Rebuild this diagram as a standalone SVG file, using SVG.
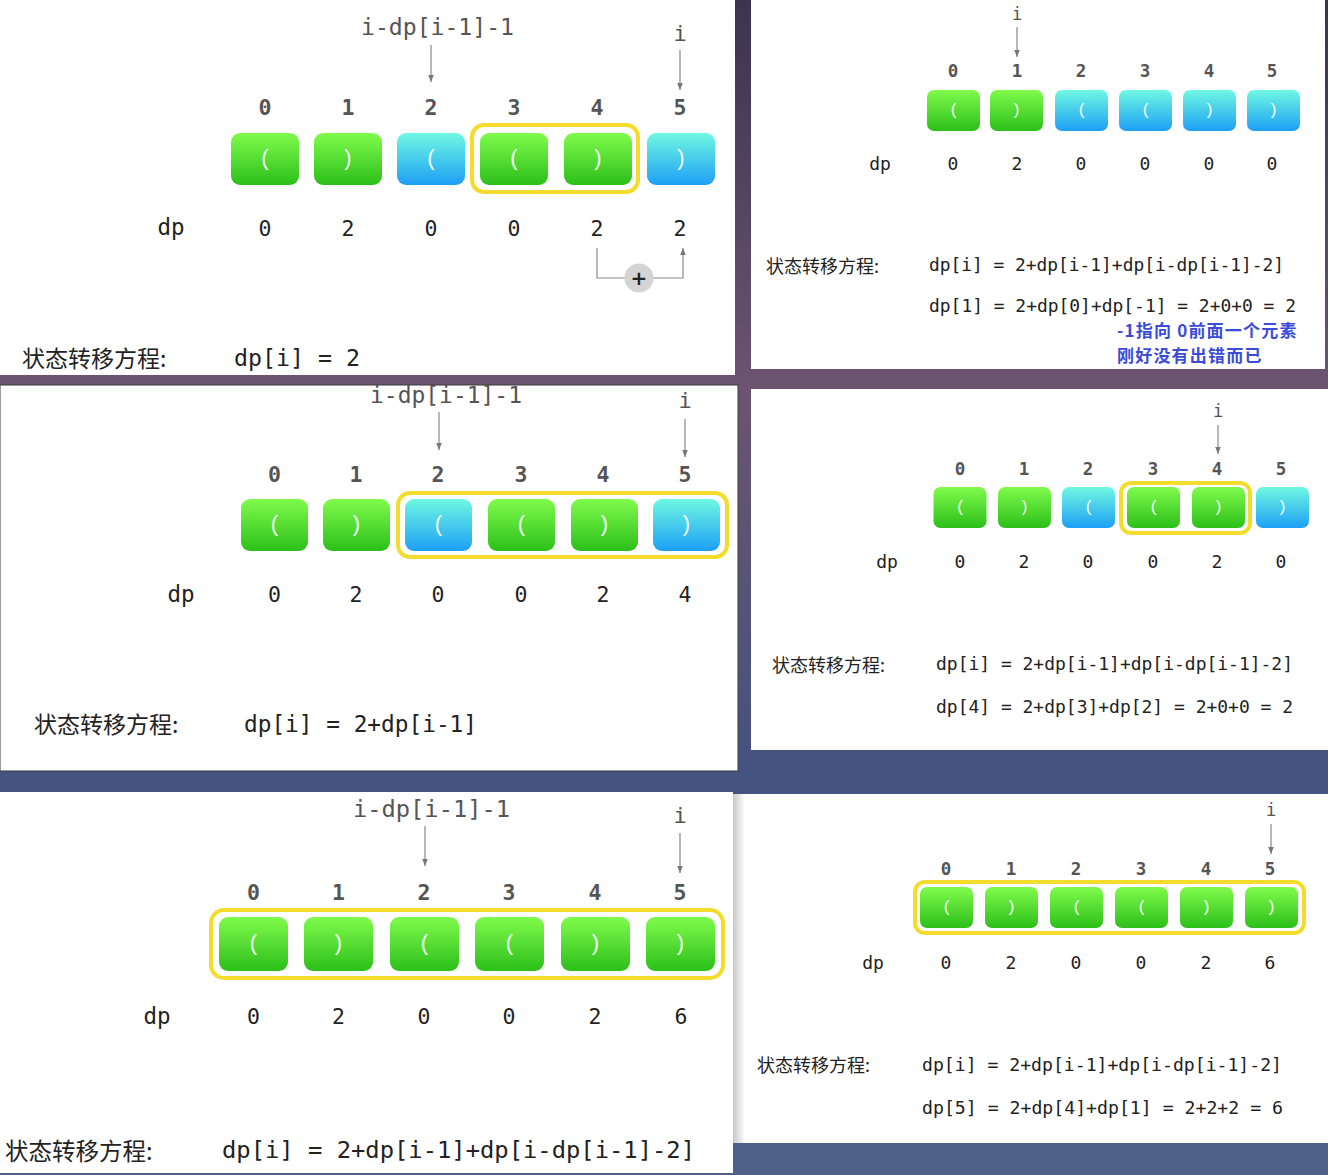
<svg xmlns="http://www.w3.org/2000/svg" width="1328" height="1175" viewBox="0 0 1328 1175">
<defs>
<linearGradient id="bg" x1="0" y1="0" x2="0" y2="1">
<stop offset="0" stop-color="#3b3450"/>
<stop offset="0.33" stop-color="#6c5470"/>
<stop offset="0.66" stop-color="#44537f"/>
<stop offset="1" stop-color="#4f6189"/>
</linearGradient>
<linearGradient id="gg" x1="0" y1="0" x2="0" y2="1">
<stop offset="0" stop-color="#80fb4c"/>
<stop offset="1" stop-color="#2cbf1a"/>
</linearGradient>
<linearGradient id="gb" x1="0" y1="0" x2="0" y2="1">
<stop offset="0" stop-color="#6ff8e2"/>
<stop offset="1" stop-color="#1e9ff5"/>
</linearGradient>
<linearGradient id="sh" x1="0" y1="0" x2="1" y2="0">
<stop offset="0" stop-color="#c8c8c8"/>
<stop offset="1" stop-color="#ffffff"/>
</linearGradient>
<marker id="ah" viewBox="0 0 10 10" refX="10" refY="5" markerWidth="6" markerHeight="6" orient="auto">
<path d="M0,1 L10,5 L0,9 z" fill="#777"/>
</marker>
</defs>
<style>
.panel{fill:#ffffff}
.g{fill:url(#gg)}
.b{fill:url(#gb)}
.hl{fill:none;stroke:#f4dc2c;stroke-width:4}
.par{font-family:"Liberation Sans",Arial,sans-serif;fill:#f4fff4;text-anchor:middle}
.idx{font-family:"DejaVu Sans Mono",monospace;font-weight:bold;fill:#555;text-anchor:middle}
.val{font-family:"DejaVu Sans Mono",monospace;fill:#222;text-anchor:middle}
.ptr{font-family:"DejaVu Sans Mono",monospace;fill:#555}
.ptrc{font-family:"DejaVu Sans Mono",monospace;fill:#555;text-anchor:middle}
.fm{font-family:"DejaVu Sans Mono",monospace;fill:#222}
.cn{font-family:"Noto Sans CJK SC",sans-serif;fill:#222}
.note{font-family:"Noto Sans CJK SC",sans-serif;font-weight:bold;fill:#3b4bd9;letter-spacing:1.2px}
.arr{stroke:#888;stroke-width:1.2;fill:none;marker-end:url(#ah)}
.L{font-size:21.5px}
.S{font-size:17.5px}
</style>
<rect x="0" y="0" width="1328" height="1175" fill="url(#bg)"/>

<!-- Panel 1 -->
<g id="panel1">
<rect class="panel" x="0" y="0" width="735" height="375"/>
<text class="ptr" x="361" y="35" font-size="23" textLength="153" lengthAdjust="spacingAndGlyphs">i-dp[i-1]-1</text>
<text class="ptrc" x="680" y="41" font-size="22">i</text>
<g class="idx L"><text x="265" y="115">0</text><text x="348" y="115">1</text><text x="431" y="115">2</text><text x="514" y="115">3</text><text x="597" y="115">4</text><text x="680" y="115">5</text></g>
<g id="p1-nodes">
<g id="p1-n0"><rect class="g" x="231" y="133" width="68" height="52" rx="9"/><text class="par" x="265" y="165" font-size="22">(</text></g>
<g id="p1-n1"><rect class="g" x="314" y="133" width="68" height="52" rx="9"/><text class="par" x="348" y="165" font-size="22">)</text></g>
<g id="p1-n2"><rect class="b" x="397" y="133" width="68" height="52" rx="9"/><text class="par" x="431" y="165" font-size="22">(</text></g>
<g id="p1-n3"><rect class="g" x="480" y="133" width="68" height="52" rx="9"/><text class="par" x="514" y="165" font-size="22">(</text></g>
<g id="p1-n4"><rect class="g" x="564" y="133" width="68" height="52" rx="9"/><text class="par" x="598" y="165" font-size="22">)</text></g>
<g id="p1-n5"><rect class="b" x="647" y="133" width="68" height="52" rx="9"/><text class="par" x="681" y="165" font-size="22">)</text></g>
<rect id="p1-hl" class="hl" x="472" y="125" width="166" height="67" rx="12"/>
</g>
<text class="val" x="171" y="235" font-size="22.5">dp</text>
<g class="val L"><text x="265" y="236">0</text><text x="348" y="236">2</text><text x="431" y="236">0</text><text x="514" y="236">0</text><text x="597" y="236">2</text><text x="680" y="236">2</text></g>
<g id="p1-connectors">
<line class="arr" x1="431" y1="45" x2="431" y2="82"/>
<line class="arr" x1="680" y1="50" x2="680" y2="90"/>
<path class="arr" d="M597,248 V278 H683 V248"/>
</g>
<g id="p1-plus"><circle cx="639" cy="278" r="14.5" fill="#d4d4d4"/><text x="639" y="285" font-family="DejaVu Sans,sans-serif" font-weight="bold" font-size="20" fill="#222" text-anchor="middle">+</text></g>
<text class="cn" x="22" y="367" font-size="23">状态转移方程:</text>
<text class="fm" x="234" y="366" font-size="23" textLength="126" lengthAdjust="spacingAndGlyphs">dp[i] = 2</text>
</g>

<!-- Panel 2 -->
<g id="panel2">
<rect class="panel" x="751" y="0" width="574" height="369"/>
<text class="ptrc" x="1017" y="20" font-size="17">i</text>
<g class="idx S"><text x="953" y="77">0</text><text x="1017" y="77">1</text><text x="1081" y="77">2</text><text x="1145" y="77">3</text><text x="1209" y="77">4</text><text x="1272" y="77">5</text></g>
<g id="p2-nodes">
<g id="p2-n0"><rect class="g" x="927" y="90" width="53" height="41" rx="7"/><text class="par" x="953.5" y="115" font-size="17">(</text></g>
<g id="p2-n1"><rect class="g" x="990" y="90" width="53" height="41" rx="7"/><text class="par" x="1016.5" y="115" font-size="17">)</text></g>
<g id="p2-n2"><rect class="b" x="1055" y="90" width="53" height="41" rx="7"/><text class="par" x="1081.5" y="115" font-size="17">(</text></g>
<g id="p2-n3"><rect class="b" x="1119" y="90" width="53" height="41" rx="7"/><text class="par" x="1145.5" y="115" font-size="17">(</text></g>
<g id="p2-n4"><rect class="b" x="1183" y="90" width="53" height="41" rx="7"/><text class="par" x="1209.5" y="115" font-size="17">)</text></g>
<g id="p2-n5"><rect class="b" x="1247" y="90" width="53" height="41" rx="7"/><text class="par" x="1273.5" y="115" font-size="17">)</text></g>
</g>
<g id="p2-connectors"><line class="arr" x1="1017" y1="27" x2="1017" y2="57"/></g>
<text class="val" x="880" y="170" font-size="18">dp</text>
<g class="val" font-size="18"><text x="953" y="170">0</text><text x="1017" y="170">2</text><text x="1081" y="170">0</text><text x="1145" y="170">0</text><text x="1209" y="170">0</text><text x="1272" y="170">0</text></g>
<text class="cn" x="766" y="273" font-size="18">状态转移方程:</text>
<text class="fm" x="929" y="271" font-size="17.8" textLength="355" lengthAdjust="spacingAndGlyphs">dp[i] = 2+dp[i-1]+dp[i-dp[i-1]-2]</text>
<text class="fm" x="929" y="312" font-size="17.8" textLength="367" lengthAdjust="spacingAndGlyphs">dp[1] = 2+dp[0]+dp[-1] = 2+0+0 = 2</text>
<text class="note" x="1117" y="337" font-size="17">-1指向 0前面一个元素</text>
<text class="note" x="1117" y="362" font-size="17">刚好没有出错而已</text>
</g>

<!-- Panel 3 -->
<g id="panel3">
<rect class="panel" x="0" y="385" width="738" height="386" stroke="#3a3a3a" stroke-width="1"/>
<text class="ptr" x="370" y="403" font-size="23" textLength="152" lengthAdjust="spacingAndGlyphs">i-dp[i-1]-1</text>
<text class="ptrc" x="685" y="408" font-size="22">i</text>
<g class="idx L"><text x="274.5" y="482">0</text><text x="356" y="482">1</text><text x="438" y="482">2</text><text x="521" y="482">3</text><text x="603" y="482">4</text><text x="685" y="482">5</text></g>
<g id="p3-nodes">
<g id="p3-n0"><rect class="g" x="241" y="499" width="67" height="52" rx="9"/><text class="par" x="274.5" y="531" font-size="22">(</text></g>
<g id="p3-n1"><rect class="g" x="323" y="499" width="67" height="52" rx="9"/><text class="par" x="356.5" y="531" font-size="22">)</text></g>
<g id="p3-n2"><rect class="b" x="405" y="499" width="67" height="52" rx="9"/><text class="par" x="438.5" y="531" font-size="22">(</text></g>
<g id="p3-n3"><rect class="g" x="488" y="499" width="67" height="52" rx="9"/><text class="par" x="521.5" y="531" font-size="22">(</text></g>
<g id="p3-n4"><rect class="g" x="571" y="499" width="67" height="52" rx="9"/><text class="par" x="604.5" y="531" font-size="22">)</text></g>
<g id="p3-n5"><rect class="b" x="653" y="499" width="67" height="52" rx="9"/><text class="par" x="686.5" y="531" font-size="22">)</text></g>
<rect id="p3-hl" class="hl" x="398" y="493" width="329" height="64" rx="12"/>
</g>
<g id="p3-connectors">
<line class="arr" x1="439" y1="412" x2="439" y2="450"/>
<line class="arr" x1="685" y1="419" x2="685" y2="457"/>
</g>
<text class="val" x="181" y="602" font-size="22.5">dp</text>
<g class="val L"><text x="274.5" y="602">0</text><text x="356" y="602">2</text><text x="438" y="602">0</text><text x="521" y="602">0</text><text x="603" y="602">2</text><text x="685" y="602">4</text></g>
<text class="cn" x="34" y="733" font-size="23">状态转移方程:</text>
<text class="fm" x="244" y="732" font-size="22.8" textLength="233" lengthAdjust="spacingAndGlyphs">dp[i] = 2+dp[i-1]</text>
</g>

<!-- Panel 4 -->
<g id="panel4">
<rect class="panel" x="751" y="389" width="577" height="361"/>
<text class="ptrc" x="1218" y="417" font-size="17">i</text>
<g class="idx S"><text x="960" y="475">0</text><text x="1024" y="475">1</text><text x="1088" y="475">2</text><text x="1153" y="475">3</text><text x="1217" y="475">4</text><text x="1281" y="475">5</text></g>
<g id="p4-nodes">
<g id="p4-n0"><rect class="g" x="933.5" y="487" width="53" height="41" rx="7"/><text class="par" x="960" y="512" font-size="17">(</text></g>
<g id="p4-n1"><rect class="g" x="998" y="487" width="53" height="41" rx="7"/><text class="par" x="1024.5" y="512" font-size="17">)</text></g>
<g id="p4-n2"><rect class="b" x="1062" y="487" width="53" height="41" rx="7"/><text class="par" x="1088.5" y="512" font-size="17">(</text></g>
<g id="p4-n3"><rect class="g" x="1127" y="487" width="53" height="41" rx="7"/><text class="par" x="1153.5" y="512" font-size="17">(</text></g>
<g id="p4-n4"><rect class="g" x="1192" y="487" width="53" height="41" rx="7"/><text class="par" x="1218.5" y="512" font-size="17">)</text></g>
<g id="p4-n5"><rect class="b" x="1256" y="487" width="53" height="41" rx="7"/><text class="par" x="1282.5" y="512" font-size="17">)</text></g>
<rect id="p4-hl" class="hl" x="1121" y="483" width="129" height="50" rx="10"/>
</g>
<g id="p4-connectors"><line class="arr" x1="1218" y1="425" x2="1218" y2="454"/></g>
<text class="val" x="887" y="568" font-size="18">dp</text>
<g class="val" font-size="18"><text x="960" y="568">0</text><text x="1024" y="568">2</text><text x="1088" y="568">0</text><text x="1153" y="568">0</text><text x="1217" y="568">2</text><text x="1281" y="568">0</text></g>
<text class="cn" x="772" y="672" font-size="18">状态转移方程:</text>
<text class="fm" x="936" y="670" font-size="17.8" textLength="357" lengthAdjust="spacingAndGlyphs">dp[i] = 2+dp[i-1]+dp[i-dp[i-1]-2]</text>
<text class="fm" x="936" y="713" font-size="17.8" textLength="357" lengthAdjust="spacingAndGlyphs">dp[4] = 2+dp[3]+dp[2] = 2+0+0 = 2</text>
</g>

<!-- Panel 5 -->
<g id="panel5">
<rect class="panel" x="0" y="792" width="733" height="381"/>
<text class="ptr" x="353" y="817" font-size="23.5" textLength="157" lengthAdjust="spacingAndGlyphs">i-dp[i-1]-1</text>
<text class="ptrc" x="680" y="823" font-size="22">i</text>
<g class="idx L"><text x="253.5" y="900">0</text><text x="338.5" y="900">1</text><text x="424" y="900">2</text><text x="509" y="900">3</text><text x="595" y="900">4</text><text x="680" y="900">5</text></g>
<g id="p5-nodes">
<g id="p5-n0"><rect class="g" x="219" y="917" width="69" height="54" rx="9"/><text class="par" x="253.5" y="950" font-size="22">(</text></g>
<g id="p5-n1"><rect class="g" x="304" y="917" width="69" height="54" rx="9"/><text class="par" x="338.5" y="950" font-size="22">)</text></g>
<g id="p5-n2"><rect class="g" x="390" y="917" width="69" height="54" rx="9"/><text class="par" x="424.5" y="950" font-size="22">(</text></g>
<g id="p5-n3"><rect class="g" x="475" y="917" width="69" height="54" rx="9"/><text class="par" x="509.5" y="950" font-size="22">(</text></g>
<g id="p5-n4"><rect class="g" x="561" y="917" width="69" height="54" rx="9"/><text class="par" x="595.5" y="950" font-size="22">)</text></g>
<g id="p5-n5"><rect class="g" x="646" y="917" width="69" height="54" rx="9"/><text class="par" x="680.5" y="950" font-size="22">)</text></g>
<rect id="p5-hl" class="hl" x="211" y="910" width="512" height="68" rx="13"/>
</g>
<g id="p5-connectors">
<line class="arr" x1="425" y1="826" x2="425" y2="866"/>
<line class="arr" x1="680" y1="833" x2="680" y2="873"/>
</g>
<text class="val" x="157" y="1024" font-size="22.5">dp</text>
<g class="val L"><text x="253.5" y="1024">0</text><text x="338.5" y="1024">2</text><text x="424" y="1024">0</text><text x="509" y="1024">0</text><text x="595" y="1024">2</text><text x="681" y="1024">6</text></g>
<text class="cn" x="5" y="1160" font-size="23.5">状态转移方程:</text>
<text class="fm" x="222" y="1158" font-size="23.5" textLength="473" lengthAdjust="spacingAndGlyphs">dp[i] = 2+dp[i-1]+dp[i-dp[i-1]-2]</text>
</g>

<!-- Panel 6 -->
<g id="panel6">
<rect class="panel" x="733" y="794" width="595" height="349"/>
<rect x="733" y="794" width="12" height="349" fill="url(#sh)"/>
<text class="ptrc" x="1271" y="816" font-size="17">i</text>
<g class="idx S"><text x="946" y="875">0</text><text x="1011" y="875">1</text><text x="1076" y="875">2</text><text x="1141" y="875">3</text><text x="1206" y="875">4</text><text x="1270" y="875">5</text></g>
<g id="p6-nodes">
<g id="p6-n0"><rect class="g" x="920" y="887" width="53" height="41" rx="7"/><text class="par" x="946.5" y="912" font-size="17">(</text></g>
<g id="p6-n1"><rect class="g" x="985" y="887" width="53" height="41" rx="7"/><text class="par" x="1011.5" y="912" font-size="17">)</text></g>
<g id="p6-n2"><rect class="g" x="1050" y="887" width="53" height="41" rx="7"/><text class="par" x="1076.5" y="912" font-size="17">(</text></g>
<g id="p6-n3"><rect class="g" x="1115" y="887" width="53" height="41" rx="7"/><text class="par" x="1141.5" y="912" font-size="17">(</text></g>
<g id="p6-n4"><rect class="g" x="1180" y="887" width="53" height="41" rx="7"/><text class="par" x="1206.5" y="912" font-size="17">)</text></g>
<g id="p6-n5"><rect class="g" x="1245" y="887" width="53" height="41" rx="7"/><text class="par" x="1271.5" y="912" font-size="17">)</text></g>
<rect id="p6-hl" class="hl" x="915" y="882" width="389" height="51" rx="10"/>
</g>
<g id="p6-connectors"><line class="arr" x1="1271" y1="824" x2="1271" y2="854"/></g>
<text class="val" x="873" y="969" font-size="18">dp</text>
<g class="val" font-size="18"><text x="946" y="969">0</text><text x="1011" y="969">2</text><text x="1076" y="969">0</text><text x="1141" y="969">0</text><text x="1206" y="969">2</text><text x="1270" y="969">6</text></g>
<text class="cn" x="757" y="1072" font-size="18">状态转移方程:</text>
<text class="fm" x="922" y="1071" font-size="17.8" textLength="360" lengthAdjust="spacingAndGlyphs">dp[i] = 2+dp[i-1]+dp[i-dp[i-1]-2]</text>
<text class="fm" x="922" y="1114" font-size="17.8" textLength="361" lengthAdjust="spacingAndGlyphs">dp[5] = 2+dp[4]+dp[1] = 2+2+2 = 6</text>
</g>
</svg>
